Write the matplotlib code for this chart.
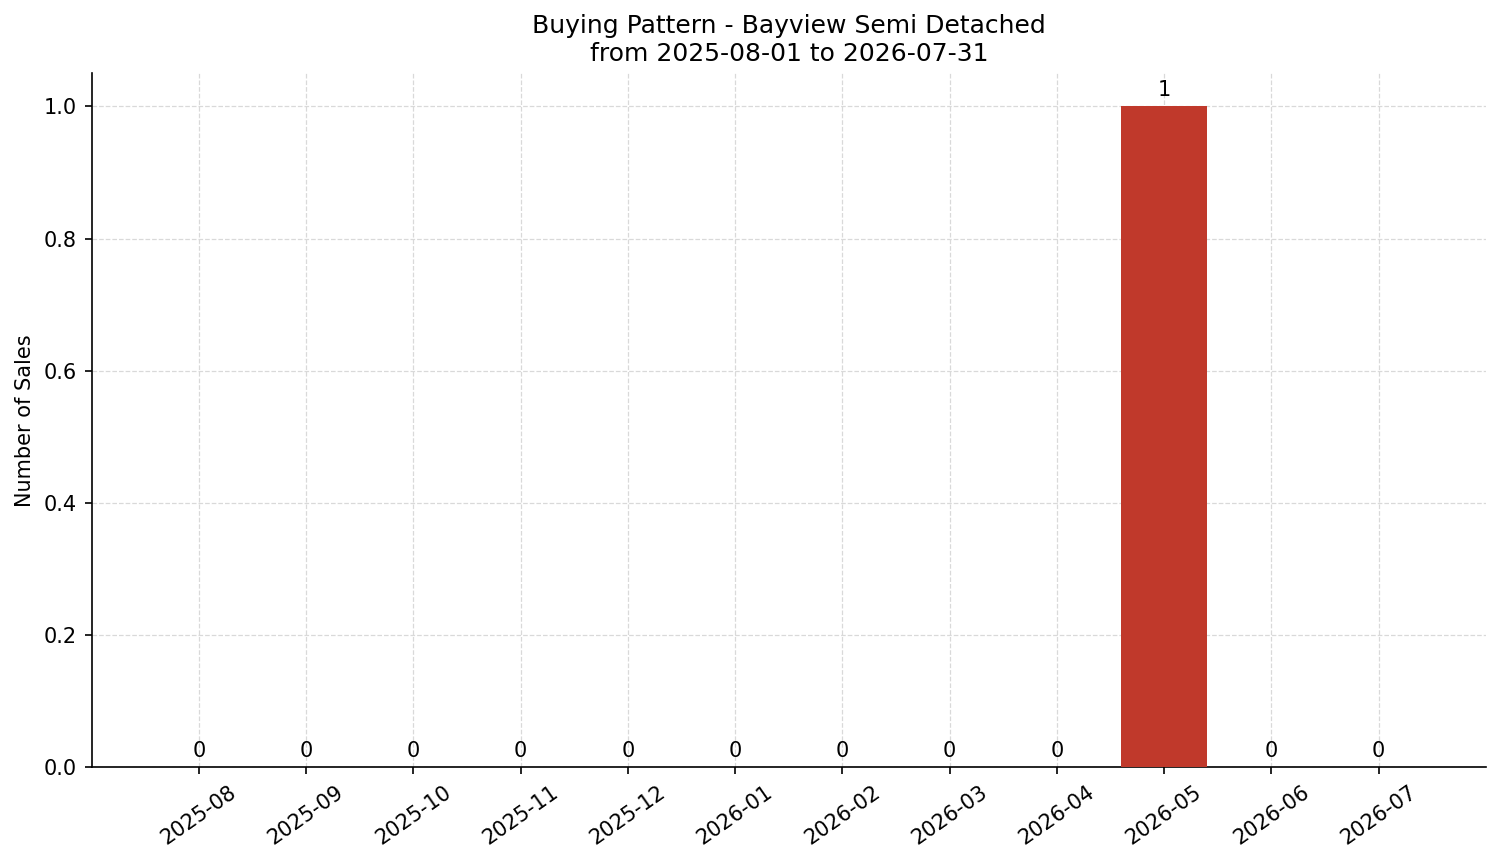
import matplotlib
matplotlib.use("Agg")
import matplotlib.pyplot as plt

months = ["2025-08","2025-09","2025-10","2025-11","2025-12","2026-01",
          "2026-02","2026-03","2026-04","2026-05","2026-06","2026-07"]
sales = [0,0,0,0,0,0,0,0,0,1,0,0]

fig, ax = plt.subplots(figsize=(1501/150, 863/150), dpi=150)
x = list(range(len(months)))
bars = ax.bar(x, sales, width=0.8, color="#c0392b", zorder=3)
for xi, v in zip(x, sales):
    ax.text(xi, v + 0.01, str(v), ha="center", va="bottom", fontsize=10)
ax.set_xticks(x)
ax.set_xticklabels(months, rotation=35)
ax.set_xlim(-1, 12)
ax.set_ylim(0, 1.05)
ax.set_ylabel("Number of Sales")
ax.set_title("Buying Pattern - Bayview Semi Detached\nfrom 2025-08-01 to 2026-07-31")
ax.grid(True, linestyle="--", color="#d9d9d9", linewidth=0.6, zorder=0)
ax.spines["top"].set_visible(False)
ax.spines["right"].set_visible(False)
fig.subplots_adjust(left=0.061, right=0.99, top=0.915, bottom=0.111)
fig.savefig("out.png", dpi=150)
